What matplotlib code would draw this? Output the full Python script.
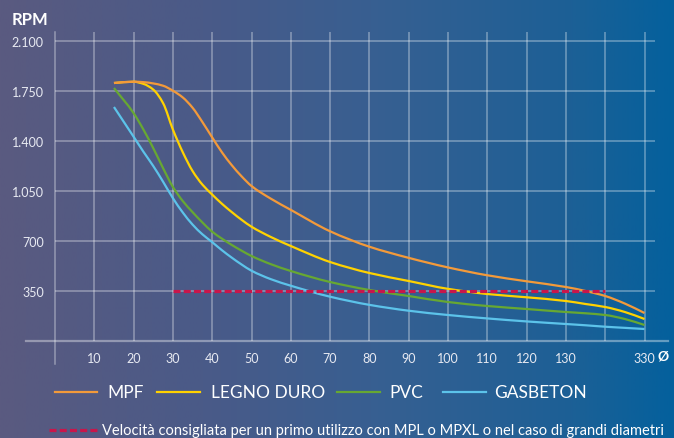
import numpy as np
import matplotlib
matplotlib.use("Agg")
import matplotlib.pyplot as plt
from matplotlib.lines import Line2D
from matplotlib.path import Path
from matplotlib.patches import PathPatch
from matplotlib.colors import LinearSegmentedColormap

plt.rcParams['font.family'] = ['Lato', 'DejaVu Sans']

# x positions on the chart (1 = "10", ... 13 = "130", 15 = "330")
pos = [1.5, 2.0, 2.25, 2.5, 2.75, 3.0, 3.25, 3.5, 3.75, 4.0, 4.25, 4.5, 4.75, 5.0, 5.5, 6.0,
       7.0, 8.0, 9.0, 10.0, 11.0, 12.0, 13.0, 13.5, 14.0, 14.5, 15.0]

mpf = [1806, 1815, 1812, 1803, 1787, 1752, 1705, 1633, 1533, 1425, 1320, 1230, 1152, 1085,
       995, 918, 768, 660, 582, 515, 460, 418, 378, 350, 315, 262, 196]
legno = [1806, 1815, 1800, 1760, 1665, 1480, 1322, 1190, 1095, 1025, 960, 902, 848, 800,
         727, 665, 553, 476, 420, 365, 329, 306, 280, 259, 238, 203, 154]
pvc = [1771, 1595, 1480, 1350, 1210, 1078, 980, 902, 830, 765, 716, 672, 632, 595,
       537, 490, 413, 357, 315, 273, 245, 224, 203, 194, 182, 154, 112]
gasbeton = [1638, 1430, 1325, 1225, 1115, 1000, 900, 815, 747, 692, 635, 583, 535, 492,
            432, 387, 310, 253, 212, 182, 158, 137, 119, 110, 100, 92, 84]

red_pos = [3, 14]
red_rpm = [350, 350]

x_ticks = [1, 2, 3, 4, 5, 6, 7, 8, 9, 10, 11, 12, 13, 15]
x_labels = ["10", "20", "30", "40", "50", "60", "70", "80", "90", "100", "110", "120", "130", "330"]
v_grid = [1, 2, 3, 4, 5, 6, 7, 8, 9, 10, 11, 12, 13, 14, 15]
y_ticks = [350, 700, 1050, 1400, 1750, 2100]
y_labels = ["350", "700", "1.050", "1.400", "1.750", "2.100"]

names = ["MPF", "LEGNO DURO", "PVC", "GASBETON"]
colors = ["#f39a3a", "#ffd200", "#67a832", "#5cc3ea"]
note = "Velocità consigliata per un primo utilizzo con MPL o MPXL o nel caso di grandi diametri"


def smooth_path(x, y):
    # monotone cubic (Fritsch-Carlson) tangents, drawn as bezier segments
    x = np.asarray(x, float)
    y = np.asarray(y, float)
    h = np.diff(x)
    d = np.diff(y) / h
    m = np.zeros_like(y)
    m[0], m[-1] = d[0], d[-1]
    for i in range(1, len(x) - 1):
        if d[i - 1] * d[i] <= 0:
            m[i] = 0
        else:
            w1 = 2 * h[i] + h[i - 1]
            w2 = h[i] + 2 * h[i - 1]
            m[i] = (w1 + w2) / (w1 / d[i - 1] + w2 / d[i])
    verts = [(x[0], y[0])]
    codes = [Path.MOVETO]
    for i in range(len(x) - 1):
        verts += [(x[i] + h[i] / 3, y[i] + m[i] * h[i] / 3),
                  (x[i + 1] - h[i] / 3, y[i + 1] - m[i + 1] * h[i] / 3),
                  (x[i + 1], y[i + 1])]
        codes += [Path.CURVE4] * 3
    return Path(verts, codes)


W, H = 674, 439
fig = plt.figure(figsize=(W / 100, H / 100), dpi=100)

# background gradient
bg = fig.add_axes([0, 0, 1, 1])
cmap = LinearSegmentedColormap.from_list("bg", [
    (0.0, (90/255, 90/255, 128/255)),
    (0.3, (74/255, 90/255, 136/255)),
    (0.55, (56/255, 95/255, 145/255)),
    (0.85, (28/255, 96/255, 150/255)),
    (1.0, (4/255, 96/255, 157/255))])
bg.imshow(np.linspace(0, 1, 256).reshape(1, -1), aspect='auto', cmap=cmap,
          extent=[0, 1, 0, 1])
bg.axis('off')

x0, x1, y0, y1 = 55, 668, 342, 33
ax = fig.add_axes([x0 / W, 1 - y0 / H, (x1 - x0) / W, (y0 - y1) / H])
ax.set_facecolor('none')
px = 39.3
ax.set_xlim(0, (x1 - x0) / px)
ax.set_ylim(0, (y0 - y1) * 7)
for s in ax.spines.values():
    s.set_visible(False)

gc = (1, 1, 1, 0.38)
ax.hlines(y_ticks, 0, (655 - x0) / px, color=gc, lw=1.1)
ax.vlines(v_grid, 0, (y0 - y1) * 7, color=gc, lw=1.1)
ax.plot([0, 0], [-(365 - y0) * 7, (y0 - y1) * 7], color=gc, lw=1.1, clip_on=False)
ax.plot([-(x0 - 26) / px, (x1 - x0) / px], [0, 0], color=gc, lw=1.6, clip_on=False)

ax.set_xticks(x_ticks)
ax.set_xticklabels(x_labels)
ax.set_yticks(y_ticks)
ax.set_yticklabels(y_labels)
ax.tick_params(length=0, colors='#e8eaf2', labelsize=9)
ax.tick_params(axis='y', pad=8)
ax.tick_params(axis='x', pad=8)

for series, c, z in zip([legno, mpf, pvc, gasbeton], [colors[1], colors[0], colors[2], colors[3]],
                        [3, 3.1, 3, 3]):
    ax.add_patch(PathPatch(smooth_path(pos, series), fill=False, edgecolor=c, lw=1.6,
                           capstyle='butt', zorder=z))
ax.plot(red_pos, red_rpm, color='#c8164b', lw=2.3, dashes=(2.2, 1.0), zorder=4)

ax.text((663 - x0) / px, -(357 - y0) * 7, "Ø", color='white', fontsize=10,
        fontweight='bold', ha='center', va='center')
fig.text(12 / W, 1 - 20 / H, "RPM", color='white', fontsize=12, fontweight='bold',
         ha='left', va='center')

# legend
line_x = [(55, 97), (157, 200), (337, 380), (443, 486)]
text_x = [107, 211, 389, 494]
ly = 1 - 393 / H
for (a, b), tx, c, n in zip(line_x, text_x, colors, names):
    fig.add_artist(Line2D([a / W, b / W], [ly, ly], color=c, lw=1.6))
    fig.text(tx / W, ly, n, color='white', fontsize=12.5, ha='left', va='center')
ry = 1 - 431 / H
fig.add_artist(Line2D([49 / W, 99 / W], [ry, ry], color='#c8164b', lw=2.3, dashes=(2.2, 1.0)))
fig.text(102 / W, ry, note, color='white', fontsize=10.5, ha='left', va='center')

fig.savefig("out.png", dpi=100)
